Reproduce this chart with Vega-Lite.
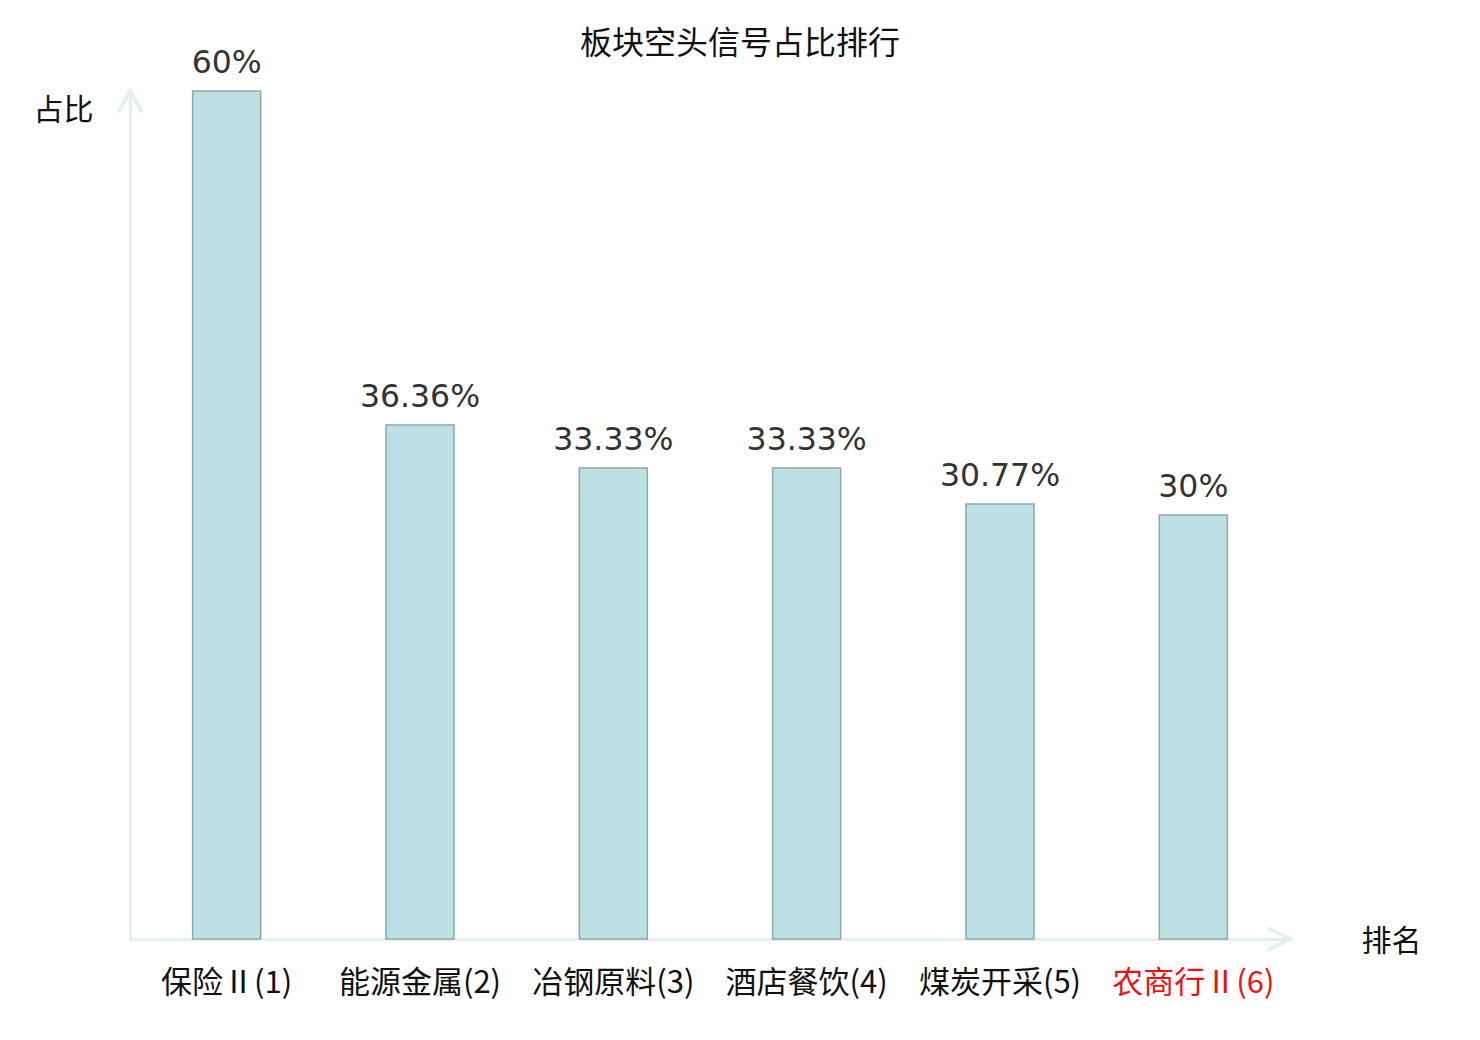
{
  "$schema": "https://vega.github.io/schema/vega-lite/v6.json",
  "autosize": "none",
  "width": 1160,
  "height": 848,
  "padding": {"left": 130, "top": 91, "right": 190, "bottom": 101},
  "background": "white",
  "title": {
    "text": "板块空头信号占比排行",
    "font": "Noto Sans CJK SC",
    "fontSize": 32,
    "fontWeight": "normal",
    "color": "#111111",
    "anchor": "middle",
    "dx": 30,
    "offset": -13
  },
  "config": {
    "view": {"stroke": null},
    "axis": {"grid": false, "ticks": false}
  },
  "data": {
    "values": [
      {"name": "保险Ⅱ(1)", "pct": 0.6},
      {"name": "能源金属(2)", "pct": 0.3636},
      {"name": "冶钢原料(3)", "pct": 0.3333},
      {"name": "酒店餐饮(4)", "pct": 0.3333},
      {"name": "煤炭开采(5)", "pct": 0.3077},
      {"name": "农商行Ⅱ(6)", "pct": 0.3}
    ]
  },
  "encoding": {
    "x": {
      "field": "name",
      "type": "nominal",
      "sort": null,
      "scale": {"paddingInner": 0, "paddingOuter": 0},
      "axis": {
        "title": "排名",
        "titleFont": "Noto Sans CJK SC",
        "titleFontSize": 30,
        "titleFontWeight": "normal",
        "titleColor": "#111111",
        "titleAngle": 0,
        "titleAlign": "center",
        "titleBaseline": "middle",
        "titleX": 1261,
        "titleY": 2,
        "labelAngle": 0,
        "labelFont": "Noto Sans CJK SC",
        "labelFontSize": 31,
        "labelPadding": 29,
        "labelColor": {"condition": {"test": "datum.value === '农商行Ⅱ(6)'", "value": "#ee1111"}, "value": "#111111"},
        "domainColor": "#dff2ef",
        "domainWidth": 3
      }
    },
    "y": {
      "field": "pct",
      "type": "quantitative",
      "scale": {"domain": [0, 0.6], "nice": false},
      "axis": {
        "title": "占比",
        "titleFont": "Noto Sans CJK SC",
        "titleFontSize": 30,
        "titleFontWeight": "normal",
        "titleColor": "#111111",
        "titleAngle": 0,
        "titleAlign": "center",
        "titleBaseline": "middle",
        "titleX": -67,
        "titleY": 19,
        "labels": false,
        "domainColor": "#dff2ef",
        "domainWidth": 3
      }
    }
  },
  "layer": [
    {
      "mark": {"type": "bar", "width": {"band": 0.352}, "fill": "#bce0e3", "stroke": "#8ca9ab", "strokeWidth": 1.5}
    },
    {
      "mark": {"type": "text", "font": "DejaVu Sans", "fontSize": 31.5, "color": "#333333", "baseline": "alphabetic", "dy": -18},
      "encoding": {
        "text": {"field": "pct", "type": "quantitative", "format": ".2~%"}
      }
    },
    {
      "mark": {"type": "point", "shape": "M-1,1.8L0,0L1,1.8", "size": 529, "filled": false, "stroke": "#dff2ef", "strokeWidth": 3, "opacity": 1},
      "encoding": {
        "x": {"datum": "保险Ⅱ(1)", "bandPosition": 0},
        "y": {"datum": 0.6}
      }
    },
    {
      "mark": {"type": "point", "shape": "M-2,-1L0,0L-2,1", "size": 484, "filled": false, "stroke": "#dff2ef", "strokeWidth": 3, "opacity": 1},
      "encoding": {
        "x": {"datum": "农商行Ⅱ(6)", "bandPosition": 1},
        "y": {"datum": 0}
      }
    }
  ]
}
